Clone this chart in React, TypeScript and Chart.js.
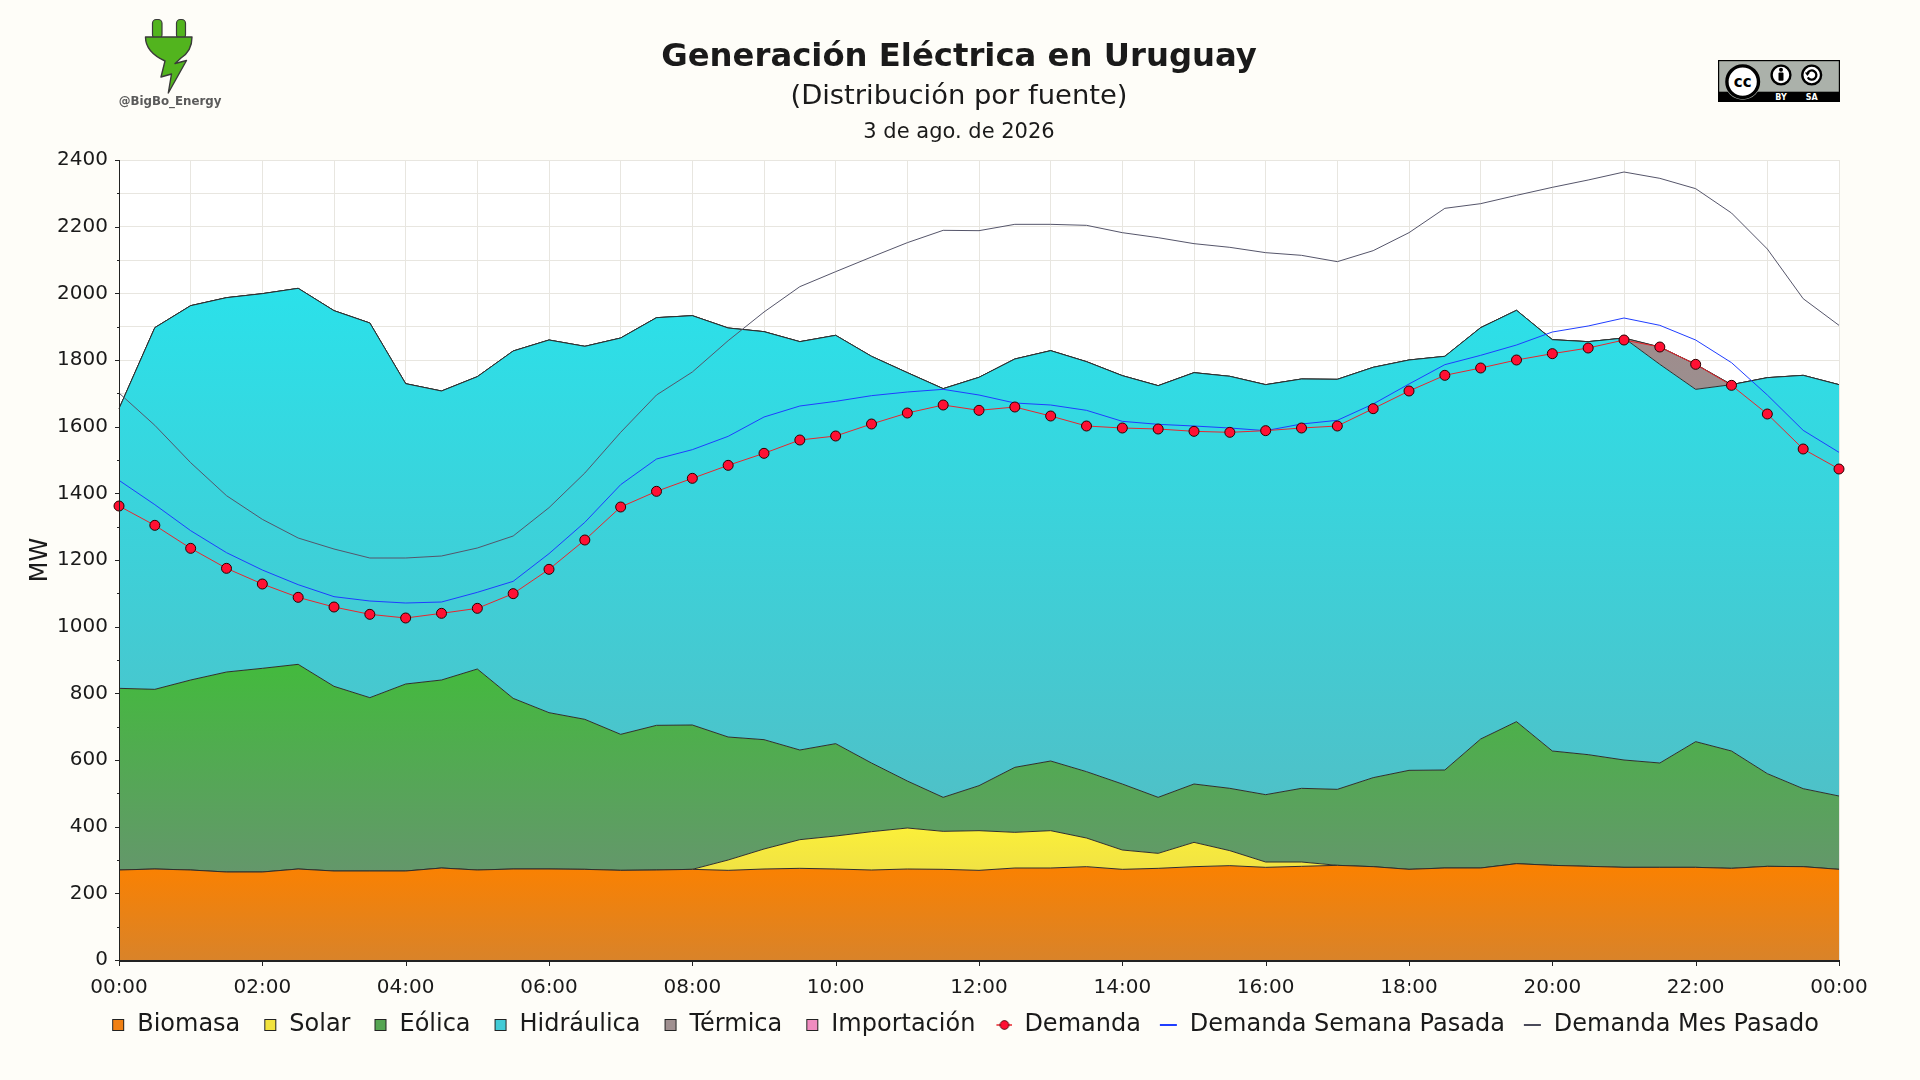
import React, { useEffect, useRef } from 'react';
import { Chart, registerables } from 'chart.js';

Chart.register(...registerables);

// ---------------- DATA ----------------
const timeLabels = [
  '00:00', '00:30', '01:00', '01:30', '02:00', '02:30', '03:00', '03:30', '04:00', '04:30',
  '05:00', '05:30', '06:00', '06:30', '07:00', '07:30', '08:00', '08:30', '09:00', '09:30',
  '10:00', '10:30', '11:00', '11:30', '12:00', '12:30', '13:00', '13:30', '14:00', '14:30',
  '15:00', '15:30', '16:00', '16:30', '17:00', '17:30', '18:00', '18:30', '19:00', '19:30',
  '20:00', '20:30', '21:00', '21:30', '22:00', '22:30', '23:00', '23:30', '00:00',
];

const biomasa = [
  270, 273, 270, 264, 264, 273, 267, 267, 267, 276,
  270, 273, 273, 272, 269, 270, 272, 269, 273, 275,
  273, 270, 273, 272, 269, 276, 276, 280, 272, 275,
  280, 283, 278, 281, 284, 280, 272, 276, 276, 289,
  284, 281, 278, 278, 278, 275, 281, 280, 272,
];

const solar = [
  0, 0, 0, 0, 0, 0, 0, 0, 0, 0,
  0, 0, 0, 0, 0, 0, 0, 31, 60, 86,
  99, 115, 123, 114, 119, 107, 112, 86, 58, 45,
  73, 45, 16, 13, 0, 0, 0, 0, 0, 0,
  0, 0, 0, 0, 0, 0, 0, 0, 0,
];

const eolica = [
  545, 539, 570, 600, 611, 614, 554, 520, 561, 564,
  603, 512, 469, 450, 408, 434, 433, 369, 328, 269,
  277, 206, 141, 102, 135, 195, 209, 199, 198, 168,
  175, 187, 202, 221, 228, 267, 297, 294, 387, 426,
  343, 335, 322, 313, 377, 352, 278, 234, 220,
];

const hidraulica = [
  839, 1085, 1123, 1123, 1124, 1128, 1127, 1124, 901, 867,
  877, 1042, 1118, 1119, 1189, 1223, 1228, 1227, 1224, 1225,
  1225, 1220, 1225, 1226, 1225, 1225, 1231, 1230, 1225, 1235,
  1234, 1236, 1230, 1228, 1230, 1231, 1231, 1241, 1234, 1234,
  1234, 1239, 1266, 1196, 1057, 1099, 1188, 1240, 1234,
];

const termica = [
  0, 0, 0, 0, 0, 0, 0, 0, 0, 0,
  0, 0, 0, 0, 0, 0, 0, 0, 0, 0,
  0, 0, 0, 0, 0, 0, 0, 0, 0, 0,
  0, 0, 0, 0, 0, 0, 0, 0, 0, 0,
  0, 0, 0, 52, 75, 0, 0, 0, 0,
];

const importacion = [
  0, 0, 0, 0, 0, 0, 0, 0, 0, 0,
  0, 0, 0, 0, 0, 0, 0, 0, 0, 0,
  0, 0, 0, 0, 0, 0, 0, 0, 0, 0,
  0, 0, 0, 0, 0, 0, 0, 0, 0, 0,
  0, 0, 0, 0, 0, 0, 0, 0, 0,
];

const demanda = [
  1362, 1304, 1235, 1175, 1128, 1088, 1059, 1037, 1026, 1040,
  1055, 1099, 1172, 1260, 1359, 1406, 1445, 1484, 1520, 1560,
  1572, 1608, 1641, 1665, 1649, 1659, 1632, 1602, 1596, 1593,
  1586, 1583, 1588, 1596, 1602, 1654, 1707, 1754, 1776, 1800,
  1819, 1836, 1860, 1839, 1787, 1724, 1638, 1533, 1473,
];

const demandaSemanaPasada = [
  1439, 1366, 1288, 1222, 1170, 1126, 1090, 1077, 1071, 1074,
  1103, 1136, 1219, 1313, 1426, 1503, 1531, 1571, 1629, 1662,
  1676, 1693, 1704, 1712, 1695, 1671, 1665, 1649, 1616, 1607,
  1602, 1596, 1588, 1608, 1619, 1668, 1728, 1786, 1814, 1845,
  1884, 1902, 1926, 1904, 1860, 1792, 1695, 1589, 1523,
];

const demandaMesPasado = [
  1701, 1604, 1492, 1393, 1322, 1266, 1233, 1206, 1206, 1212,
  1236, 1272, 1357, 1461, 1583, 1695, 1764, 1858, 1944, 2020,
  2065, 2109, 2152, 2189, 2188, 2207, 2207, 2204, 2182, 2167,
  2149, 2138, 2122, 2114, 2095, 2128, 2182, 2255, 2269, 2294,
  2318, 2340, 2364, 2345, 2314, 2241, 2133, 1984, 1904,
];

const areaLabels = ['Biomasa', 'Solar', 'Eólica', 'Hidráulica', 'Térmica', 'Importación'];
const lineLabels = ['Demanda', 'Demanda Semana Pasada', 'Demanda Mes Pasado'];

const titleText = 'Generación Eléctrica en Uruguay';
const subtitleText = '(Distribución por fuente)';
const dateText = '3 de ago. de 2026';
const yAxisTitle = 'MW';

// ---------------- STYLE ----------------
const FONT = "'DejaVu Sans', 'Liberation Sans', sans-serif";
const PAGE_BG = '#fefdf8';
const TEXT = '#1a1a1a';
const AXIS = '#222222';
const GRID = '#e8e6e0';

const areaSeries = [biomasa, solar, eolica, hidraulica, termica, importacion];
const areaColors = [
  { top: '#fb8100', bottom: '#d98329', legend: '#f08014' },
  { top: '#fbef3a', bottom: '#f0e244', legend: '#f2e33e' },
  { top: '#43ba3d', bottom: '#64976b', legend: '#55a552' },
  { top: '#2be1ea', bottom: '#4ec1c8', legend: '#42cbd6' },
  { top: '#a38b8b', bottom: '#9a8f8f', legend: '#a09090' },
  { top: '#f28cc6', bottom: '#e488bb', legend: '#f08cc0' },
];

function makeGradient(k: number) {
  return (ctx: any) => {
    const chart = ctx.chart;
    const { chartArea, scales } = chart;
    const c = areaColors[k];
    if (!chartArea || !scales || !scales.y) return c.top;
    let maxTop = -Infinity;
    let minBase = Infinity;
    for (let i = 0; i < timeLabels.length; i++) {
      let base = 0;
      for (let j = 0; j < k; j++) base += areaSeries[j][i];
      const top = base + areaSeries[k][i];
      if (top > maxTop) maxTop = top;
      if (base < minBase) minBase = base;
    }
    const y0 = scales.y.getPixelForValue(maxTop);
    let y1 = scales.y.getPixelForValue(minBase);
    if (y1 - y0 < 1) y1 = y0 + 1;
    const g = chart.ctx.createLinearGradient(0, y0, 0, y1);
    g.addColorStop(0, c.top);
    g.addColorStop(1, c.bottom);
    return g;
  };
}

// legend marker images (26 px wide, drawn centred on the legend box)
function squareMarker(color: string) {
  const c = document.createElement('canvas');
  c.width = 26;
  c.height = 12;
  const x = c.getContext('2d')!;
  x.fillStyle = color;
  x.fillRect(13.5, 0.5, 11, 11);
  x.strokeStyle = '#222';
  x.lineWidth = 1;
  x.strokeRect(13.5, 0.5, 11, 11);
  return c;
}

function lineMarker(color: string) {
  const c = document.createElement('canvas');
  c.width = 26;
  c.height = 4;
  const x = c.getContext('2d')!;
  x.fillStyle = color;
  x.fillRect(8, 1, 17, 2);
  return c;
}

function dotMarker() {
  const c = document.createElement('canvas');
  c.width = 26;
  c.height = 12;
  const x = c.getContext('2d')!;
  x.strokeStyle = '#e8262e';
  x.lineWidth = 1.5;
  x.beginPath();
  x.moveTo(10, 6);
  x.lineTo(26, 6);
  x.stroke();
  x.beginPath();
  x.arc(18, 6, 4.4, 0, Math.PI * 2);
  x.fillStyle = '#ff1033';
  x.fill();
  x.strokeStyle = '#3a0000';
  x.lineWidth = 0.8;
  x.stroke();
  return c;
}

const decorPlugin = {
  id: 'decor',
  beforeDraw(chart: any) {
    const { ctx, chartArea: a } = chart;
    ctx.save();
    ctx.fillStyle = PAGE_BG;
    ctx.fillRect(0, 0, chart.width, chart.height);
    ctx.fillStyle = '#ffffff';
    ctx.fillRect(a.left, a.top, a.right - a.left, a.bottom - a.top);
    ctx.restore();
  },
  afterDatasetsDraw(chart: any) {
    const { ctx, chartArea: a, scales } = chart;
    ctx.save();
    ctx.strokeStyle = AXIS;
    ctx.lineWidth = 1;
    ctx.beginPath();
    ctx.moveTo(a.left + 0.5, a.top);
    ctx.lineTo(a.left + 0.5, a.bottom + 2);
    scales.y.ticks.forEach((t: any) => {
      const y = Math.round(scales.y.getPixelForValue(t.value)) + 0.5;
      const len = t.value % 200 === 0 ? 4 : 2;
      ctx.moveTo(a.left - len, y);
      ctx.lineTo(a.left, y);
    });
    scales.x.ticks.forEach((_t: any, i: number) => {
      if (i % 4 !== 0) return;
      const x = Math.round(scales.x.getPixelForTick(i)) + 0.5;
      ctx.moveTo(x, a.bottom);
      ctx.lineTo(x, a.bottom + 6);
    });
    ctx.stroke();
    ctx.lineWidth = 2;
    ctx.beginPath();
    ctx.moveTo(a.left, a.bottom + 1);
    ctx.lineTo(a.right, a.bottom + 1);
    ctx.stroke();
    ctx.restore();
  },
  afterDraw(chart: any) {
    const { ctx, chartArea: a } = chart;
    ctx.save();
    ctx.fillStyle = TEXT;
    ctx.textAlign = 'center';
    ctx.textBaseline = 'alphabetic';
    ctx.font = `bold 32.3px ${FONT}`;
    ctx.fillText(titleText, 959, 65.5);
    ctx.font = `27.4px ${FONT}`;
    ctx.fillText(subtitleText, 959, 103.5);
    ctx.font = `21px ${FONT}`;
    ctx.fillText(dateText, 959, 137.5);
    ctx.translate(41, (a.top + a.bottom) / 2);
    ctx.rotate(-Math.PI / 2);
    ctx.font = `24px ${FONT}`;
    ctx.textBaseline = 'middle';
    ctx.fillText(yAxisTitle, 0, 0);
    ctx.restore();
  },
};

export default function App() {
  const ref = useRef<HTMLCanvasElement>(null);

  useEffect(() => {
    if (!ref.current) return;
    const markers = [
      ...areaColors.map((c) => squareMarker(c.legend)),
      dotMarker(),
      lineMarker('#1f3dff'),
      lineMarker('#4a4a5a'),
    ];
    const legendNames = [...areaLabels, ...lineLabels];

    const areaDatasets = areaSeries.map((data, k) => ({
      type: 'line',
      label: areaLabels[k],
      data,
      stack: 'gen',
      fill: k === 0 ? 'origin' : '-1',
      backgroundColor: makeGradient(k),
      borderColor: '#2e2e2e',
      borderWidth: 1,
      pointRadius: 0,
      tension: 0,
      order: 3,
    }));

    const chart = new Chart(ref.current, {
      type: 'line',
      data: {
        labels: timeLabels,
        datasets: [
          ...areaDatasets,
          {
            type: 'line',
            label: lineLabels[0],
            data: demanda,
            stack: 'dem',
            fill: false,
            borderColor: '#e8262e',
            borderWidth: 1,
            pointRadius: 5,
            pointBackgroundColor: '#ff1033',
            pointBorderColor: '#2a0000',
            pointBorderWidth: 1,
            tension: 0,
            order: 0,
            clip: false,
          },
          {
            type: 'line',
            label: lineLabels[1],
            data: demandaSemanaPasada,
            stack: 'sem',
            fill: false,
            borderColor: '#1f3dff',
            borderWidth: 1,
            pointRadius: 0,
            tension: 0,
            order: 1,
          },
          {
            type: 'line',
            label: lineLabels[2],
            data: demandaMesPasado,
            stack: 'mes',
            fill: false,
            borderColor: '#55556a',
            borderWidth: 1,
            pointRadius: 0,
            tension: 0,
            order: 2,
          },
        ] as any,
      },
      options: {
        responsive: false,
        maintainAspectRatio: false,
        animation: false,
        events: [],
        layout: { padding: { top: 160, left: 0, right: 2, bottom: 33 } },
        plugins: {
          tooltip: { enabled: false },
          title: { display: false },
          legend: {
            display: true,
            position: 'bottom',
            align: 'center',
            onClick: () => {},
            labels: {
              usePointStyle: true,
              pointStyleWidth: 26,
              boxWidth: 26,
              padding: 11,
              color: TEXT,
              font: { family: FONT, size: 24 },
              generateLabels: () =>
                legendNames.map((name, i) => ({
                  text: name,
                  pointStyle: markers[i],
                  fillStyle: 'rgba(0,0,0,0)',
                  strokeStyle: 'rgba(0,0,0,0)',
                  lineWidth: 0,
                  hidden: false,
                  datasetIndex: i,
                  fontColor: TEXT,
                })),
            },
          },
        },
        scales: {
          x: {
            type: 'category',
            afterFit: (s: any) => {
              s.height = 42;
            },
            ticks: {
              autoSkip: false,
              maxRotation: 0,
              minRotation: 0,
              padding: 16,
              color: TEXT,
              font: { family: FONT, size: 20 },
              callback: (_v: any, i: number) => (i % 4 === 0 ? timeLabels[i] : ''),
            },
            grid: {
              color: (c: any) => (c.index % 2 === 0 ? GRID : 'rgba(0,0,0,0)'),
              lineWidth: 1,
              drawTicks: false,
            },
            border: { display: false },
          },
          y: {
            type: 'linear',
            stacked: true,
            min: 0,
            max: 2400,
            afterFit: (s: any) => {
              s.width = 119;
            },
            ticks: {
              stepSize: 100,
              autoSkip: false,
              padding: 11,
              color: TEXT,
              font: { family: FONT, size: 20 },
              callback: (v: any) => (Number(v) % 200 === 0 ? String(v) : ''),
            },
            grid: { color: GRID, lineWidth: 1, drawTicks: false },
            border: { display: false },
          },
          y2: {
            type: 'linear',
            position: 'right',
            display: true,
            afterFit: (s: any) => {
              s.width = 79;
            },
            ticks: { display: false },
            grid: { display: false, drawTicks: false },
            border: { display: false },
          },
        },
      } as any,
      plugins: [decorPlugin],
    } as any);

    return () => chart.destroy();
  }, []);

  return (
    <div
      style={{
        position: 'absolute',
        left: 0,
        top: 0,
        width: 1920,
        height: 1080,
        background: PAGE_BG,
        overflow: 'hidden',
      }}
    >
      <canvas
        ref={ref}
        width={1920}
        height={1080}
        style={{ position: 'absolute', left: 0, top: 0, width: 1920, height: 1080 }}
      />
      <svg
        style={{ position: 'absolute', left: 100, top: 10 }}
        width={150}
        height={100}
        viewBox="0 0 150 100"
      >
        <rect x={52.5} y={9.5} width={9.5} height={19} rx={3.8} fill="#52b41e" stroke="#3a3a3a" strokeWidth={1.2} />
        <rect x={76.5} y={9.5} width={9} height={19} rx={3.8} fill="#52b41e" stroke="#3a3a3a" strokeWidth={1.2} />
        <path
          d="M 45.5 27 L 92 27 C 92 37 88 43.5 81 48 L 75 53.5 L 86.5 50.5 L 68.3 83 L 71.5 64 L 61 67 L 65 51 C 53 45.5 45.5 37.5 45.5 27 Z"
          fill="#52b41e"
          stroke="#3a3a3a"
          strokeWidth={1.4}
          strokeLinejoin="round"
        />
        <text
          x={70}
          y={94.5}
          textAnchor="middle"
          fontFamily="DejaVu Sans"
          fontWeight="bold"
          fontSize={11.8}
          fill="#5a5a5a"
        >
          @BigBo_Energy
        </text>
      </svg>
      <svg
        style={{ position: 'absolute', left: 1718, top: 60 }}
        width={122}
        height={42}
        viewBox="0 0 122 42"
      >
        <rect x={0} y={0} width={122} height={42} fill="#000" />
        <rect x={1.2} y={1.2} width={119.6} height={30.5} fill="#abb1aa" />
        <circle cx={24.7} cy={21.7} r={18} fill="#abb1aa" />
        <circle cx={24.7} cy={21.7} r={15.8} fill="#fff" stroke="#000" strokeWidth={3.4} />
        <text
          x={24.7}
          y={26.8}
          textAnchor="middle"
          fontFamily="DejaVu Sans"
          fontWeight="bold"
          fontSize={15}
          fill="#000"
        >
          cc
        </text>
        <circle cx={63} cy={15} r={9.4} fill="#fff" stroke="#000" strokeWidth={2.4} />
        <circle cx={63} cy={9.8} r={2} fill="#000" />
        <rect x={60.5} y={12.6} width={5} height={8.2} rx={1} fill="#000" />
        <circle cx={93.7} cy={15} r={9.4} fill="#fff" stroke="#000" strokeWidth={2.4} />
        <path d="M 89.4 13.6 A 4.6 4.6 0 1 1 89.8 17.4" fill="none" stroke="#000" strokeWidth={2.3} />
        <path d="M 86.9 12.4 L 92 12.4 L 89.4 16 Z" fill="#000" />
        <text x={63} y={39.6} textAnchor="middle" fontFamily="DejaVu Sans" fontWeight="bold" fontSize={8} fill="#fff">
          BY
        </text>
        <text x={93.7} y={39.6} textAnchor="middle" fontFamily="DejaVu Sans" fontWeight="bold" fontSize={8} fill="#fff">
          SA
        </text>
      </svg>
    </div>
  );
}
